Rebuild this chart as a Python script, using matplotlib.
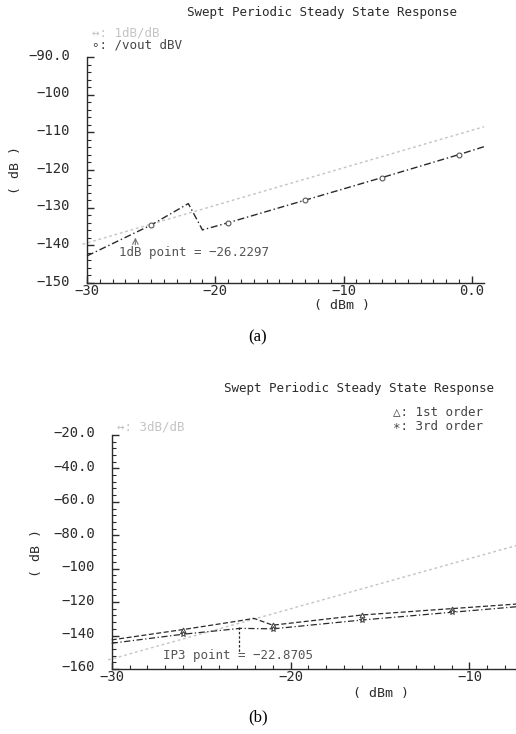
import numpy as np
import matplotlib
matplotlib.use("Agg")
import matplotlib.pyplot as plt
from matplotlib.transforms import ScaledTranslation

plt.rcParams['font.family'] = ['DejaVu Sans Mono', 'DejaVu Sans']

TITLE = "Swept Periodic Steady State Response"

# ---- panel (a): 1 dB compression ----
ref_a_x = [-30.35, 0.95]
ref_a_y = [-139.7, -108.5]
vout_x = [-30.0, -25.0, -22.1, -21.0, -19.0, -13.0, -7.0, -1.0, 0.95]
vout_y = [-142.8, -134.6, -128.9, -135.9, -134.0, -128.0, -122.0, -115.9, -113.8]
vout_mark_x = [-25.0, -19.0, -13.0, -7.0, -1.0]
vout_mark_y = [-134.6, -134.0, -128.0, -122.0, -115.9]
p1db = -26.2297

a_yticks = [-90, -100, -110, -120, -130, -140, -150]
a_yticklabels = ["−90.0", "−100", "−110", "−120", "−130", "−140", "−150"]
a_xticks = [-30, -20, -10, 0]
a_xticklabels = ["−30", "−20", "−10", "0.0"]

# ---- panel (b): IP3 ----
ref_b_x = [-30.2, -7.3]
ref_b_y = [-154.6, -85.9]
first_x = [-30.0, -26.0, -22.8, -22.05, -21.0, -16.0, -11.0, -7.3]
first_y = [-142.6, -136.4, -131.1, -129.7, -133.8, -127.7, -123.9, -121.1]
third_x = [-30.0, -26.0, -22.8, -21.0, -16.0, -11.0, -7.3]
third_y = [-144.6, -139.2, -135.7, -136.0, -130.7, -126.1, -122.7]
mark_b_x = [-26.0, -21.0, -16.0, -11.0]
first_mark_y = [-136.4, -133.8, -127.7, -123.9]
third_mark_y = [-139.2, -136.0, -130.7, -126.1]
ip3 = -22.8705
ip3_top, ip3_bot = -134.7, -149.7

b_yticks = [-20, -40, -60, -80, -100, -120, -140, -160]
b_yticklabels = ["−20.0", "−40.0", "−60.0", "−80.0", "−100", "−120", "−140", "−160"]
b_xticks = [-30, -20, -10]
b_xticklabels = ["−30", "−20", "−10"]

DARK = "#2a2a2a"
LIGHT = "#c4c4c4"
FS = 9

fig = plt.figure(figsize=(5.16, 7.34), dpi=100)
ax1 = fig.add_axes([0.1686, 0.6144, 0.7694, 0.3079])
ax2 = fig.add_axes([0.2165, 0.0886, 0.7835, 0.3188])
lift = ScaledTranslation(0, 3 / 100, fig.dpi_scale_trans)


def style_axis(ax, xticks, xlabels, yticks, ylabels, xminor, yminor):
    for s in ["top", "right"]:
        ax.spines[s].set_visible(False)
    for s in ["left", "bottom"]:
        ax.spines[s].set_color(DARK)
        ax.spines[s].set_linewidth(1.0)
    ax.set_xticks(xticks)
    ax.set_xticklabels(xlabels)
    ax.set_yticks(yticks)
    ax.set_yticklabels(ylabels)
    ax.set_xticks(xminor, minor=True)
    ax.set_yticks(yminor, minor=True)
    ax.tick_params(which="both", direction="in", colors=DARK, labelsize=FS + 1)
    ax.tick_params(which="major", length=5, width=1)
    ax.tick_params(which="minor", length=3, width=0.8)
    ax.tick_params(axis="y", pad=12)
    ax.tick_params(axis="x", pad=1)
    # labels sit a little above their ticks in the original
    for lab in ax.get_yticklabels():
        lab.set_transform(lab.get_transform() + lift)


# panel (a)
ax1.plot(ref_a_x, ref_a_y, color=LIGHT, lw=1.0, ls=(0, (2, 2)), clip_on=False)
ax1.plot(vout_x, vout_y, color=DARK, lw=1.0, ls=(0, (5, 2, 1, 2)), clip_on=False)
ax1.plot(vout_mark_x, vout_mark_y, ls="none", marker="o", ms=3.5, mfc="white",
         mec="#555555", mew=0.8)
ax1.set_xlim(-30, 0.95)
ax1.set_ylim(-150, -90)
style_axis(ax1, a_xticks, a_xticklabels, a_yticks, a_yticklabels,
           np.arange(-30, 1, 1), np.arange(-150, -89, 2))
ax1.annotate("", xy=(p1db, -137.2), xytext=(p1db, -140.6),
             arrowprops=dict(arrowstyle="->", color="#777777", lw=0.8))
ax1.text(-27.5, -142.0, "1dB point = −26.2297", fontsize=FS, color="#555555",
         ha="left", va="center")
ax1.set_title(TITLE, x=0.592, y=1.199, pad=0, va="center", fontsize=FS, color=DARK)
ax1.text(0.012, 1.106, "↔: 1dB/dB", transform=ax1.transAxes, fontsize=FS,
         color=LIGHT, va="center")
ax1.text(0.012, 1.053, "∘: /vout dBV", transform=ax1.transAxes, fontsize=FS,
         color="#444444", va="center")
ax1.set_xlabel("( dBm )", fontsize=FS + 0.5, color=DARK, va="center")
ax1.xaxis.set_label_coords(0.642, -0.100)
ax1.set_ylabel("( dB )", fontsize=FS + 0.5, color=DARK, va="center")
ax1.yaxis.set_label_coords(-0.179, 0.5)

# panel (b)
ax2.plot(ref_b_x, ref_b_y, color=LIGHT, lw=1.0, ls=(0, (2, 2)), clip_on=False)
ax2.plot(first_x, first_y, color=DARK, lw=0.9, ls=(0, (4, 2)), clip_on=False)
ax2.plot(third_x, third_y, color=DARK, lw=0.9, ls=(0, (5, 2, 1, 2)), clip_on=False)
ax2.plot(mark_b_x, first_mark_y, ls="none", marker="^", ms=3.5, mfc="white",
         mec="#444444", mew=0.8)
ax2.plot(mark_b_x, third_mark_y, ls="none", marker="*", ms=4, mfc="white",
         mec="#444444", mew=0.7)
ax2.plot([ip3, ip3], [ip3_top, ip3_bot], color=DARK, lw=0.9, ls=(0, (2, 1.5)))
ax2.set_xlim(-30, -7.4)
ax2.set_ylim(-160, -20)
style_axis(ax2, b_xticks, b_xticklabels, b_yticks, b_yticklabels,
           np.arange(-30, -7, 1), np.arange(-160, -19, 4))
ax2.text(-27.13, -152.2, "IP3 point = −22.8705", fontsize=FS, color="#555555",
         ha="left", va="center")
ax2.set_title(TITLE, x=0.612, y=1.197, pad=0, va="center", fontsize=FS, color=DARK)
ax2.text(0.013, 1.035, "↔: 3dB/dB", transform=ax2.transAxes, fontsize=FS,
         color=LIGHT, va="center")
ax2.text(0.696, 1.10, "△: 1st order", transform=ax2.transAxes, fontsize=FS,
         color="#444444", va="center")
ax2.text(0.696, 1.035, "∗: 3rd order", transform=ax2.transAxes, fontsize=FS,
         color="#444444", va="center")
ax2.set_xlabel("( dBm )", fontsize=FS + 0.5, color=DARK, va="center")
ax2.xaxis.set_label_coords(0.666, -0.106)
ax2.set_ylabel("( dB )", fontsize=FS + 0.5, color=DARK, va="center")
ax2.yaxis.set_label_coords(-0.187, 0.496)

fig.text(0.5, 1 - 337 / 734, "(a)", family="Liberation Serif", fontsize=12,
         ha="center", va="center")
fig.text(0.5, 1 - 717 / 734, "(b)", family="Liberation Serif", fontsize=12,
         ha="center", va="center")

fig.savefig("out.png", dpi=100)
